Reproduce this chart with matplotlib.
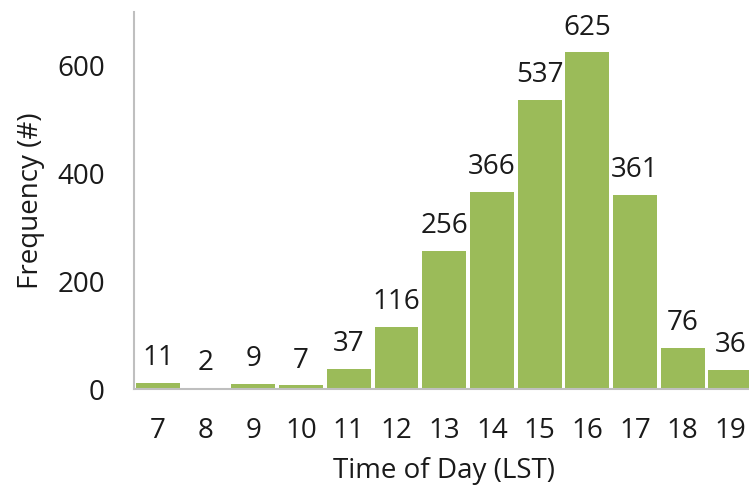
import matplotlib.pyplot as plt

hours = ['7', '8', '9', '10', '11', '12', '13', '14', '15', '16', '17', '18', '19']
counts = [11, 2, 9, 7, 37, 116, 256, 366, 537, 625, 361, 76, 36]

plt.rcParams['font.family'] = ['Open Sans', 'DejaVu Sans']
txt = '#1a1a1a'

fig = plt.figure(figsize=(7.49, 4.95), dpi=100)
ax = fig.add_axes([0.179, 0.214, 0.828, 0.762])

x = list(range(len(hours)))
bars = ax.bar(x, counts, width=0.92, color='#9BBB59')
for b, v in zip(bars, counts):
    ax.text(b.get_x() + b.get_width() / 2, v + 20, str(v), ha='center', va='bottom',
            fontsize=20, color=txt)

ax.set_xlim(-0.5, len(hours) - 0.5)
ax.set_ylim(0, 700)
ax.set_yticks([0, 200, 400, 600])
ax.set_xticks(x)
ax.set_xticklabels(hours)
ax.tick_params(length=0, labelsize=20, labelcolor=txt)
ax.tick_params(axis='y', pad=21)
ax.tick_params(axis='x', pad=20)

for s in ['top', 'right']:
    ax.spines[s].set_visible(False)
for s in ['left', 'bottom']:
    ax.spines[s].set_color('#BFBFBF')
    ax.spines[s].set_linewidth(1.5)

ax.set_xlabel('Time of Day (LST)', fontsize=20, color=txt, labelpad=9)
ax.set_ylabel('Frequency (#)', fontsize=20, color=txt, labelpad=9)

fig.savefig('out.png', dpi=100)
